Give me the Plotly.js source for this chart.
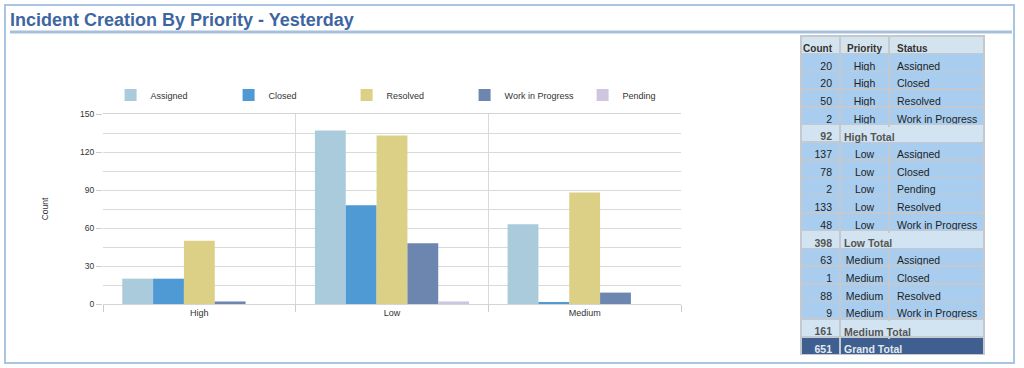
<!DOCTYPE html>
<html>
<head>
<meta charset="utf-8">
<script src="https://cdn.plot.ly/plotly-3.0.1.min.js"></script>
<style>
html,body{margin:0;padding:0;background:#fff;}
#chart{width:1024px;height:368px;}
</style>
</head>
<body>
<div id="chart"></div>
<script>
// ---- Data ----
const priorities = ['High', 'Low', 'Medium'];
const statusNames = ['Assigned', 'Closed', 'Resolved', 'Work in Progress', 'Pending'];
const assigned = [20, 137, 63];
const closed = [20, 78, 1];
const resolved = [50, 133, 88];
const workInProgress = [2, 48, 9];
const pending = [null, 2, null];

const tableHeader = ['Count', 'Priority', 'Status'];
const tableCount = ['20', '20', '50', '2', '92', '137', '78', '2', '133', '48', '398', '63', '1', '88', '9', '161', '651'];
const tablePriority = ['High', 'High', 'High', 'High', 'High Total', 'Low', 'Low', 'Low', 'Low', 'Low', 'Low Total', 'Medium', 'Medium', 'Medium', 'Medium', 'Medium Total', 'Grand Total'];
const tableStatus = ['Assigned', 'Closed', 'Resolved', 'Work in Progress', '', 'Assigned', 'Closed', 'Pending', 'Resolved', 'Work in Progress', '', 'Assigned', 'Closed', 'Resolved', 'Work in Progress', '', ''];
const tableRowKind = ['d','d','d','d','t','d','d','d','d','d','t','d','d','d','d','t','g'];

// ---- Styles ----
const FONT = 'Liberation Sans, Arial, sans-serif';
const W = 1024, H = 368;
const seriesColors = ['#a9cbdc', '#4f9ad4', '#dccf86', '#6c86b0', '#cdc6de'];
const seriesValues = [assigned, closed, resolved, workInProgress, pending];

const traces = statusNames.map((name, i) => ({
  type: 'bar',
  name: name,
  x: priorities,
  y: seriesValues[i],
  marker: {color: seriesColors[i]},
  xaxis: 'x', yaxis: 'y',
  hoverinfo: 'x+y+name'
}));

// keep texts on one line in the table (no word wrapping)
const nb = s => String(s).replace(/ /g, '\u00a0');

const fillFor = {d: '#a8cdef', t: '#d2e4f1', g: '#3e5f8f'};
const colorFor = {d: '#1e1e1e', t: '#555555', g: '#e4eaf2'};
const rowFill = tableRowKind.map(k => fillFor[k]);
const rowFont = tableRowKind.map(k => colorFor[k]);
const rowWeight = tableRowKind.map(k => k === 'd' ? 'normal' : 'bold');

// table geometry (pixels)
const tblTop = 36, rowH = 17.7, tblLeft = 801, colW = [39, 49, 95];
const tblBottom = tblTop + rowH * (tableCount.length + 1);
const textDrop = 3.5; // table text sits a little below its row centre

traces.push({
  type: 'table',
  domain: {x: [tblLeft / W, (tblLeft + colW[0] + colW[1] + colW[2]) / W], y: [(H - tblBottom - 2) / H, (H - tblTop) / H]},
  columnwidth: colW,
  header: {
    values: tableHeader,
    align: ['right', 'center', 'left'],
    fill: {color: '#d3e4ef'},
    line: {color: '#c4c9cf', width: 1.5},
    font: {family: FONT, size: 10, color: '#333333', weight: 'bold'},
    height: rowH
  },
  cells: {
    values: [
      tableCount.map(nb),
      tablePriority.map((v, i) => tableRowKind[i] === 'd' ? nb(v) : ''),
      tableStatus.map(nb)
    ],
    align: [
      tableRowKind.map(() => 'right'),
      tableRowKind.map(() => 'center'),
      tableRowKind.map(() => 'left')
    ],
    fill: {color: [rowFill, rowFill, rowFill]},
    line: {color: '#c4c9cf', width: 1.5},
    font: {family: FONT, size: 10.5, color: [rowFont, rowFont, rowFont], weight: [rowWeight, rowWeight, rowWeight]},
    height: rowH
  }
});

// subtotal / grand total rows: Priority + Status cells look merged, label spans both
const totalLabels = [];
tableRowKind.forEach((k, i) => {
  if (k === 'd') return;
  const yc = tblTop + rowH * (i + 1) + rowH / 2;
  totalLabels.push({
    xref: 'paper', yref: 'paper',
    x: (tblLeft + colW[0] + 1.5) / W, xanchor: 'left',
    y: (H - yc - 0.8) / H, yanchor: 'middle',
    width: colW[1] + colW[2] - 4, height: 15, align: 'left', valign: 'middle',
    bgcolor: fillFor[k], borderpad: 0, borderwidth: 0,
    text: '\u00a0', showarrow: false,
    font: {family: FONT, size: 10.5, color: colorFor[k]}
  });
  totalLabels.push({
    xref: 'paper', yref: 'paper',
    x: (tblLeft + colW[0] + 3) / W, xanchor: 'left',
    y: (H - yc - textDrop) / H, yanchor: 'middle',
    text: tablePriority[i], showarrow: false, borderpad: 0,
    font: {family: FONT, size: 10.5, color: colorFor[k], weight: 'bold'}
  });
});

const layout = {
  width: W, height: H,
  margin: {l: 0, r: 0, t: 0, b: 0},
  paper_bgcolor: '#ffffff', plot_bgcolor: '#ffffff',
  showlegend: true,
  font: {family: FONT, size: 9, color: '#333333'},
  title: {
    text: 'Incident Creation By Priority - Yesterday',
    x: 10 / W, xanchor: 'left', xref: 'paper',
    y: (H - 20) / H, yanchor: 'middle', yref: 'paper',
    font: {family: FONT, size: 18, color: '#3d66a0', weight: 'bold'}
  },
  barmode: 'group', bargap: 0.2, bargroupgap: 0,
  xaxis: {
    domain: [103 / W, 681 / W],
    type: 'category', categoryorder: 'array', categoryarray: priorities,
    tickson: 'boundaries', ticks: 'outside', ticklen: 7, tickcolor: '#cccccc',
    showgrid: true, gridcolor: '#d9d9d9', gridwidth: 1,
    showline: true, linecolor: '#d4d4d4', mirror: true,
    tickfont: {family: FONT, size: 9, color: '#333333'},
    fixedrange: true
  },
  yaxis: {
    domain: [(H - 304) / H, (H - 114) / H],
    range: [0, 150], dtick: 30, tick0: 0,
    ticks: 'outside', ticklen: 6, tickcolor: '#cccccc',
    showgrid: true, gridcolor: '#d9d9d9', zeroline: false,
    minor: {dtick: 15, showgrid: true, gridcolor: '#d9d9d9', ticks: ''},
    tickfont: {family: FONT, size: 8.5, color: '#333333'},
    title: {text: 'Count', standoff: 30, font: {family: FONT, size: 8.5, color: '#333333'}},
    fixedrange: true
  },
  legend: {
    orientation: 'h', x: 0.108, xanchor: 'left', y: (H - 95) / H, yanchor: 'middle',
    font: {family: FONT, size: 9, color: '#333333'},
    entrywidth: 73, entrywidthmode: 'pixels',
    itemclick: false, itemdoubleclick: false,
    bgcolor: 'rgba(0,0,0,0)'
  },
  annotations: totalLabels,
  shapes: [
    {type: 'rect', xref: 'paper', yref: 'paper', x0: 5 / W, x1: 1014 / W, y0: (H - 363) / H, y1: (H - 5) / H,
     line: {color: '#aac5e2', width: 2}, fillcolor: 'rgba(0,0,0,0)', layer: 'below'},
    {type: 'line', xref: 'paper', yref: 'paper', x0: 10 / W, x1: 1012 / W, y0: (H - 32) / H, y1: (H - 32) / H,
     line: {color: '#a8c0dc', width: 3}}
  ]
};

Plotly.newPlot('chart', traces, layout, {displayModeBar: false, staticPlot: false});
</script>
</body>
</html>
